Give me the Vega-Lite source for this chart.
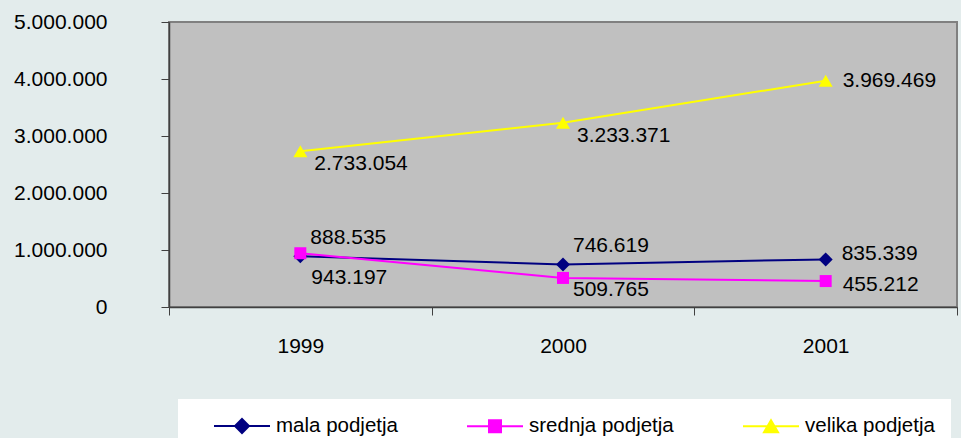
{
  "$schema": "https://vega.github.io/schema/vega-lite/v6.json",
  "width": 788,
  "height": 285,
  "autosize": {"type": "none"},
  "padding": {"left": 169, "top": 22, "right": 4, "bottom": 131},
  "background": "#e3ecec",
  "config": {
    "font": "Liberation Sans",
    "locale": {"number": {"decimal": ",", "thousands": ".", "grouping": [3], "currency": ["", " €"]}},
    "view": {"fill": "#C0C0C0", "stroke": "#808080", "strokeWidth": 2}
  },
  "data": {
    "values": [
      {"year": "1999", "series": "mala podjetja", "value": 888535},
      {"year": "2000", "series": "mala podjetja", "value": 746619},
      {"year": "2001", "series": "mala podjetja", "value": 835339},
      {"year": "1999", "series": "srednja podjetja", "value": 943197},
      {"year": "2000", "series": "srednja podjetja", "value": 509765},
      {"year": "2001", "series": "srednja podjetja", "value": 455212},
      {"year": "1999", "series": "velika podjetja", "value": 2733054},
      {"year": "2000", "series": "velika podjetja", "value": 3233371},
      {"year": "2001", "series": "velika podjetja", "value": 3969469}
    ]
  },
  "encoding": {
    "x": {
      "field": "year",
      "type": "nominal",
      "scale": {"type": "band", "paddingInner": 0, "paddingOuter": 0},
      "axis": {
        "title": null,
        "labelAngle": 0,
        "tickBand": "extent",
        "tickSize": 8,
        "tickColor": "#404040",
        "domainColor": "#404040",
        "domainWidth": 1.5,
        "labelFont": "Liberation Sans",
        "labelFontSize": 21,
        "labelColor": "#000000",
        "labelPadding": 20,
        "labelBaseline": "top",
        "grid": false
      }
    },
    "y": {
      "field": "value",
      "type": "quantitative",
      "scale": {"domain": [0, 5000000], "nice": false},
      "axis": {
        "title": null,
        "values": [0, 1000000, 2000000, 3000000, 4000000, 5000000],
        "format": ",d",
        "tickSize": 8,
        "tickColor": "#404040",
        "domainColor": "#404040",
        "domainWidth": 1.5,
        "labelFont": "Liberation Sans",
        "labelFontSize": 21,
        "labelColor": "#000000",
        "labelPadding": 54,
        "grid": false
      }
    }
  },
  "layer": [
    {
      "mark": {"type": "line", "strokeWidth": 2},
      "encoding": {
        "color": {
          "field": "series",
          "type": "nominal",
          "scale": {"domain": ["mala podjetja", "srednja podjetja", "velika podjetja"], "range": ["#000080", "#FF00FF", "#FFFF00"]},
          "legend": {
            "title": "\u00a0",
            "titleOrient": "left",
            "titleFontSize": 10,
            "titlePadding": 37,
            "orient": "none",
            "legendX": 9,
            "legendY": 377,
            "direction": "horizontal",
            "columns": 3,
            "columnPadding": 65,
            "padding": 16,
            "fillColor": "#FFFFFF",
            "symbolSize": 400,
            "symbolStrokeWidth": 2,
            "labelOffset": 23,
            "labelLimit": 0,
            "labelFont": "Liberation Sans",
            "labelFontSize": 20.5,
            "labelColor": "#000000",
            "encode": {
              "symbols": {
                "update": {
                  "shape": {"signal": "datum.value === 'mala podjetja' ? 'M-2.8,0H2.8M0,-0.7L0.7,0L0,0.7L-0.7,0Z' : datum.value === 'srednja podjetja' ? 'M-2.8,0H2.8M-0.6,-0.6H0.6V0.6H-0.6Z' : 'M-2.8,0H2.8M0,-0.6L0.7,0.6L-0.7,0.6Z'"},
                  "stroke": {"signal": "datum.value === 'mala podjetja' ? '#000080' : datum.value === 'srednja podjetja' ? '#FF00FF' : '#FFFF00'"},
                  "fill": {"signal": "datum.value === 'mala podjetja' ? '#000080' : datum.value === 'srednja podjetja' ? '#FF00FF' : '#FFFF00'"},
                  "strokeWidth": {"value": 2},
                  "size": {"value": 400},
                  "opacity": {"value": 1}
                }
              }
            }
          }
        }
      }
    },
    {
      "transform": [{"filter": "datum.series === 'mala podjetja'"}],
      "mark": {"type": "point", "filled": true, "opacity": 1, "shape": "diamond", "size": 196, "color": "#000080"}
    },
    {
      "transform": [{"filter": "datum.series === 'srednja podjetja'"}],
      "mark": {"type": "point", "filled": true, "opacity": 1, "shape": "square", "size": 144, "color": "#FF00FF"}
    },
    {
      "transform": [{"filter": "datum.series === 'velika podjetja'"}],
      "mark": {"type": "point", "filled": true, "opacity": 1, "shape": "triangle-up", "size": 196, "color": "#FFFF00"}
    },
    {
      "transform": [{"filter": "datum.series === 'velika podjetja' && datum.year !== '2001'"}],
      "mark": {"type": "text", "align": "left", "baseline": "middle", "dx": 14, "dy": 13, "fontSize": 21, "font": "Liberation Sans", "color": "#000000"},
      "encoding": {"text": {"field": "value", "type": "quantitative", "format": ",d"}}
    },
    {
      "transform": [{"filter": "datum.series === 'velika podjetja' && datum.year === '2001'"}],
      "mark": {"type": "text", "align": "left", "baseline": "middle", "dx": 17, "dy": 0, "fontSize": 21, "font": "Liberation Sans", "color": "#000000"},
      "encoding": {"text": {"field": "value", "type": "quantitative", "format": ",d"}}
    },
    {
      "transform": [{"filter": "datum.series === 'mala podjetja' && datum.year !== '2001'"}],
      "mark": {"type": "text", "align": "left", "baseline": "middle", "dx": 10, "dy": -18, "fontSize": 21, "font": "Liberation Sans", "color": "#000000"},
      "encoding": {"text": {"field": "value", "type": "quantitative", "format": ",d"}}
    },
    {
      "transform": [{"filter": "datum.series === 'mala podjetja' && datum.year === '2001'"}],
      "mark": {"type": "text", "align": "left", "baseline": "middle", "dx": 16, "dy": -5, "fontSize": 21, "font": "Liberation Sans", "color": "#000000"},
      "encoding": {"text": {"field": "value", "type": "quantitative", "format": ",d"}}
    },
    {
      "transform": [{"filter": "datum.series === 'srednja podjetja' && datum.year === '1999'"}],
      "mark": {"type": "text", "align": "left", "baseline": "middle", "dx": 11, "dy": 25, "fontSize": 21, "font": "Liberation Sans", "color": "#000000"},
      "encoding": {"text": {"field": "value", "type": "quantitative", "format": ",d"}}
    },
    {
      "transform": [{"filter": "datum.series === 'srednja podjetja' && datum.year === '2000'"}],
      "mark": {"type": "text", "align": "left", "baseline": "middle", "dx": 10, "dy": 12, "fontSize": 21, "font": "Liberation Sans", "color": "#000000"},
      "encoding": {"text": {"field": "value", "type": "quantitative", "format": ",d"}}
    },
    {
      "transform": [{"filter": "datum.series === 'srednja podjetja' && datum.year === '2001'"}],
      "mark": {"type": "text", "align": "left", "baseline": "middle", "dx": 17, "dy": 4, "fontSize": 21, "font": "Liberation Sans", "color": "#000000"},
      "encoding": {"text": {"field": "value", "type": "quantitative", "format": ",d"}}
    }
  ]
}
